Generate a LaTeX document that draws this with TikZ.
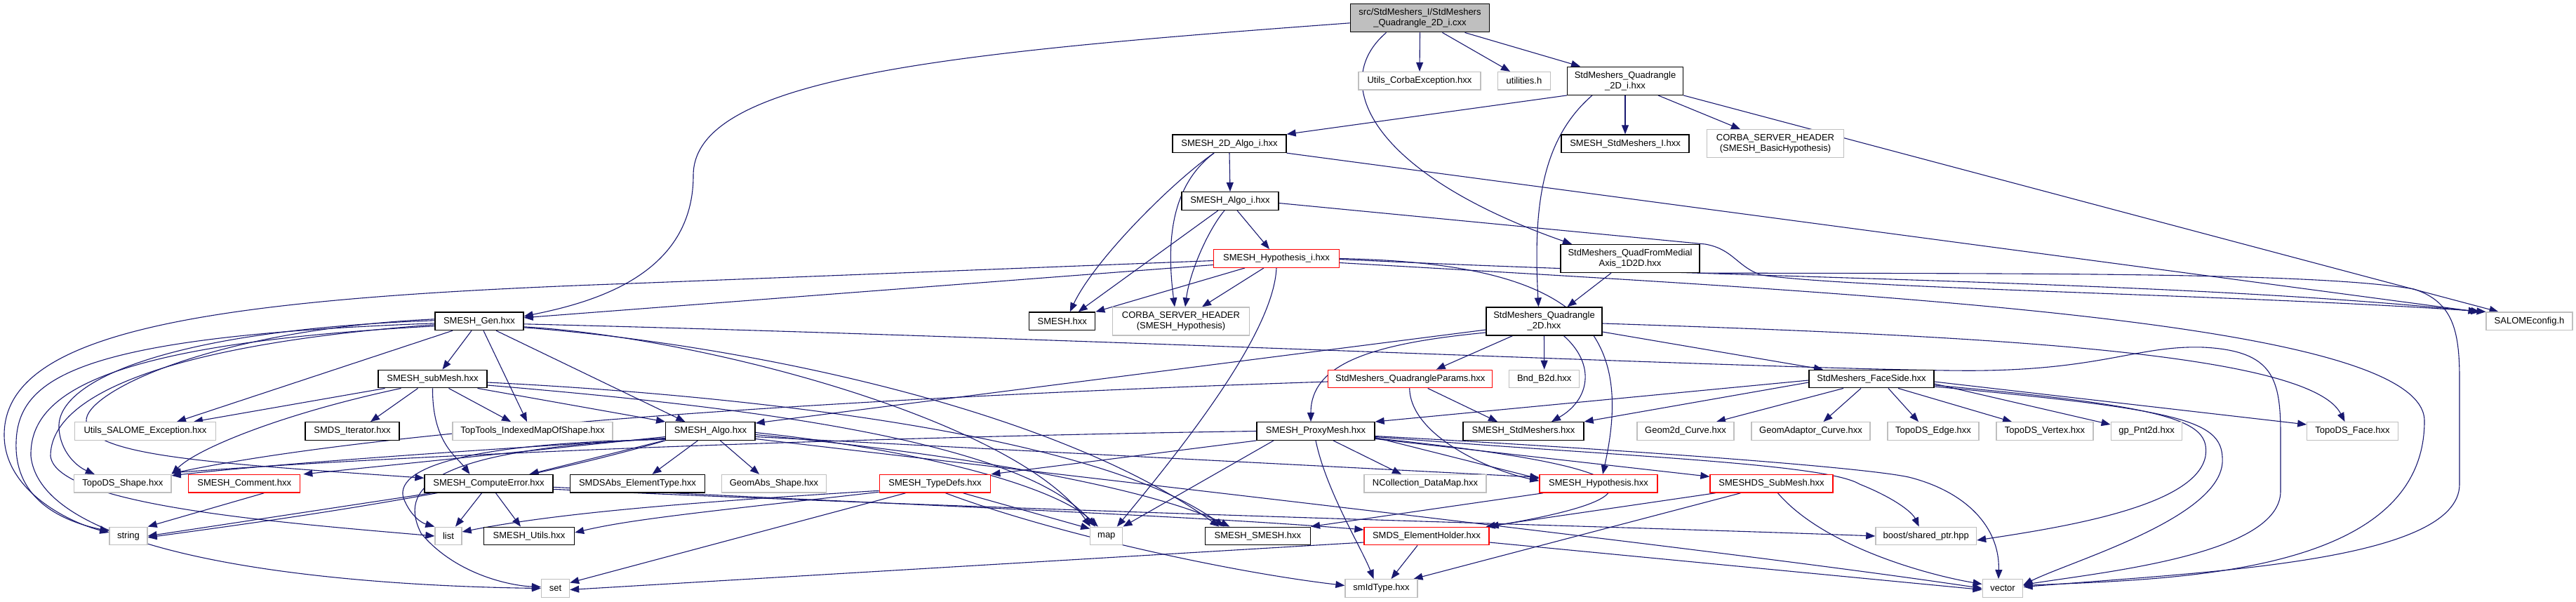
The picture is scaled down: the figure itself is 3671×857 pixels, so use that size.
\documentclass[tikz,border=0pt]{standalone}
\usepackage{fontspec}
\newfontfamily\dfont{Liberation Sans}
\usetikzlibrary{arrows.meta}
\definecolor{edgec}{HTML}{191970}
\definecolor{gry}{HTML}{BFBFBF}
\pgfdeclarelayer{bg}
\pgfsetlayers{bg,main}
\tikzset{
  box/.style={rectangle, draw=black, fill=white, line width=1.3pt, inner sep=0pt, minimum height=25.6pt, align=center, font=\dfont\fontsize{13}{15}\selectfont},
  gbox/.style={box, draw=gry},
  rbox/.style={box, draw=red},
  rootbox/.style={box, fill=gry},
  tall/.style={minimum height=40pt},
  e/.style={draw=edgec, line width=1.1pt, -{Triangle[length=13pt,width=10pt]}},
}
\begin{document}
\begin{tikzpicture}[x=1pt,y=-1pt]
\useasboundingbox (0,0) rectangle (3671,857);
% row 0
\node[rootbox, tall, minimum width=198] (R) at (2023.5,25.8) {src/StdMeshers\_I/StdMeshers\\\_Quadrangle\_2D\_i.cxx};
% row 1
\node[gbox, minimum width=174] (UCE) at (2023,115.3) {Utils\_CorbaException.hxx};
\node[gbox, minimum width=75] (UTL) at (2172,115.3) {utilities.h};
\node[box, tall, minimum width=165] (QI) at (2316,115.3) {StdMeshers\_Quadrangle\\\_2D\_i.hxx};
% row 2
\node[box, minimum width=162] (A2D) at (1752,204.7) {SMESH\_2D\_Algo\_i.hxx};
\node[box, minimum width=182] (SSI) at (2316,204.7) {SMESH\_StdMeshers\_I.hxx};
\node[gbox, tall, minimum width=195] (CBH) at (2530,204.7) {CORBA\_SERVER\_HEADER\\(SMESH\_BasicHypothesis)};
% row 3
\node[box, minimum width=138] (AI) at (1753,286.5) {SMESH\_Algo\_i.hxx};
% row 4
\node[rbox, minimum width=179] (HI) at (1819,368.5) {SMESH\_Hypothesis\_i.hxx};
\node[box, tall, minimum width=198] (QFM) at (2323,368.5) {StdMeshers\_QuadFromMedial\\Axis\_1D2D.hxx};
% row 5
\node[box, minimum width=126] (GEN) at (683,457.8) {SMESH\_Gen.hxx};
\node[box, minimum width=94] (SMH) at (1513.7,457.8) {SMESH.hxx};
\node[gbox, tall, minimum width=195] (CHY) at (1683,458) {CORBA\_SERVER\_HEADER\\(SMESH\_Hypothesis)};
\node[box, tall, minimum width=165] (Q2D) at (2200.5,458) {StdMeshers\_Quadrangle\\\_2D.hxx};
\node[gbox, minimum width=123] (SAL) at (3604.5,457.8) {SALOMEconfig.h};
% row 6
\node[box, minimum width=155] (SUB) at (616.5,540) {SMESH\_subMesh.hxx};
\node[rbox, minimum width=234] (QP) at (2009.7,540) {StdMeshers\_QuadrangleParams.hxx};
\node[gbox, minimum width=100] (BND) at (2200.7,540) {Bnd\_B2d.hxx};
\node[box, minimum width=178] (FS) at (2667,540) {StdMeshers\_FaceSide.hxx};
% row 7
\node[gbox, minimum width=200.6] (USE) at (207,614.5) {Utils\_SALOME\_Exception.hxx};
\node[box, minimum width=134] (SIT) at (502,614.5) {SMDS\_Iterator.hxx};
\node[gbox, minimum width=228] (TTI) at (759,614.5) {TopTools\_IndexedMapOfShape.hxx};
\node[box, minimum width=127.3] (ALG) at (1012.4,614.5) {SMESH\_Algo.hxx};
\node[box, minimum width=168] (PXM) at (1875,614.5) {SMESH\_ProxyMesh.hxx};
\node[box, minimum width=172] (SSM) at (2171,614.5) {SMESH\_StdMeshers.hxx};
\node[gbox, minimum width=138] (G2C) at (2402,614.5) {Geom2d\_Curve.hxx};
\node[gbox, minimum width=169] (GAC) at (2580.5,614.5) {GeomAdaptor\_Curve.hxx};
\node[gbox, minimum width=130] (TDE) at (2755,614.5) {TopoDS\_Edge.hxx};
\node[gbox, minimum width=138] (TDV) at (2914,614.5) {TopoDS\_Vertex.hxx};
\node[gbox, minimum width=101.6] (GP2) at (3059,614.5) {gp\_Pnt2d.hxx};
\node[gbox, minimum width=129.4] (TDF) at (3352.5,614.5) {TopoDS\_Face.hxx};
% row 8
\node[gbox, minimum width=138.5] (TDS) at (174.8,689.3) {TopoDS\_Shape.hxx};
\node[rbox, minimum width=159] (CMT) at (348.2,689.3) {SMESH\_Comment.hxx};
\node[box, minimum width=183] (CER) at (696.5,689.3) {SMESH\_ComputeError.hxx};
\node[box, minimum width=192] (ELT) at (908.5,689.3) {SMDSAbs\_ElementType.hxx};
\node[gbox, minimum width=149] (GAS) at (1103,689.3) {GeomAbs\_Shape.hxx};
\node[rbox, minimum width=158.5] (TYP) at (1332.5,689.3) {SMESH\_TypeDefs.hxx};
\node[gbox, minimum width=174] (NDM) at (2031,689.3) {NCollection\_DataMap.hxx};
\node[rbox, minimum width=168] (SHY) at (2278,689.3) {SMESH\_Hypothesis.hxx};
\node[rbox, minimum width=175] (SDS) at (2524.5,689.3) {SMESHDS\_SubMesh.hxx};
% row 9
\node[gbox, minimum width=54] (STR) at (183,764) {string};
\node[gbox, minimum width=38] (LST) at (639,764) {list};
\node[box, minimum width=129] (SUT) at (754,764) {SMESH\_Utils.hxx};
\node[gbox, minimum width=46] (MAP) at (1576.8,764) {map};
\node[box, minimum width=150] (SMS) at (1792.4,764) {SMESH\_SMESH.hxx};
\node[rbox, minimum width=178] (EHD) at (2033,764) {SMDS\_ElementHolder.hxx};
\node[gbox, minimum width=143.6] (BSP) at (2744.7,764) {boost/shared\_ptr.hpp};
% row 10
\node[gbox, minimum width=40] (SET) at (791.5,838.5) {set};
\node[gbox, minimum width=103] (SMI) at (1968.5,838.5) {smIdType.hxx};
\node[gbox, minimum width=57.6] (VEC) at (2854,838.5) {vector};

\begin{pgfonlayer}{bg}
% root
\draw[e] (R.south) -- (UCE.north);
\draw[e] ([xshift=32]R.south) -- ([xshift=-20]UTL.north);
\draw[e] ([xshift=64]R.south) -- ([xshift=-64]QI.north);
\draw[e] ([yshift=-7]R.west) .. controls (1350,75) and (988,110) .. (988,250) .. controls (988,390) and (850,430) .. ([yshift=7]GEN.east);
\draw[e] ([xshift=-48]R.south) .. controls (1890,120) and (1960,250) .. ([xshift=-83]QFM.north);
% QI
\draw[e] (QI.south west) -- (A2D.north east);
\draw[e] (QI.south) -- (SSI.north);
\draw[e] ([xshift=47]QI.south) -- ([xshift=-50]CBH.north);
\draw[e] ([xshift=-47]QI.south) .. controls (2195,200) and (2185,300) .. ([xshift=-8]Q2D.north);
\draw[e] (QI.south east) -- ([xshift=-44]SAL.north);
% A2D
\draw[e] (A2D.south) -- (AI.north);
\draw[e] ([xshift=-22]A2D.south) .. controls (1670,260) and (1560,370) .. ([xshift=11]SMH.north);
\draw[e] ([xshift=-22]A2D.south) .. controls (1675,260) and (1660,330) .. ([xshift=-9]CHY.north);
\draw[e] (A2D.south east) -- ([xshift=-74]SAL.north);
% AI
\draw[e] ([xshift=10]AI.south) -- ([xshift=-10]HI.north);
\draw[e] ([xshift=-17]AI.south) -- ([xshift=23]SMH.north);
\draw[e] ([xshift=-8]AI.south) .. controls (1720,330) and (1695,390) .. ([xshift=6]CHY.north);
\draw[e] ([yshift=-3]AI.east) -- (2430,348) .. controls (2470,355) and (2475,380) .. (2510,392) .. controls (2650,412) and (3200,420) .. ([xshift=-62]SAL.north);
% HI
\draw[e] ([yshift=-9]HI.west) -- ([yshift=5]GEN.east);
\draw[e] ([xshift=-45]HI.south) -- (SMH.north east);
\draw[e] ([xshift=-18]HI.south) -- ([xshift=30]CHY.north);
\draw[e] (HI.south) .. controls (1815,470) and (1700,620) .. ([xshift=15]MAP.north);
\draw[e] (HI.east) .. controls (2250,375) and (2330,470) .. ([xshift=6]SHY.north);
\draw[e] ([yshift=-3]HI.west) -- (900,404) .. controls (300,425) and (6,470) .. (6,620) .. controls (6,700) and (100,745) .. ([yshift=5]STR.west);
\draw[e] ([yshift=-1]HI.east) .. controls (2500,398) and (3100,400) .. ([xshift=-70]SAL.north);
\draw[e] ([yshift=-6]HI.east) .. controls (2700,420) and (3455,460) .. (3455,600) .. controls (3455,820) and (3100,825) .. ([yshift=4]VEC.east);
% QFM
\draw[e] ([xshift=-27]QFM.south) -- ([xshift=33]Q2D.north);
\draw[e] (QFM.south east) .. controls (2900,390) and (3300,388) .. (3440,412) .. controls (3495,430) and (3505,470) .. (3505,540) -- (3505,690) .. controls (3505,800) and (3150,815) .. ([yshift=2]VEC.east);
% Q2D
\draw[e] ([yshift=-12]Q2D.west) -- ([yshift=-2]ALG.north east);
\draw[e] ([yshift=-16]Q2D.west) .. controls (1950,490) and (1868,520) .. ([xshift=-7]PXM.north);
\draw[e] ([xshift=28]Q2D.south) .. controls (2275,520) and (2265,570) .. ([xshift=40]SSM.north);
\draw[e] ([xshift=-45]Q2D.south) -- ([xshift=37]QP.north);
\draw[e] (Q2D.south) -- (BND.north);
\draw[e] ([yshift=-15]Q2D.east) -- ([xshift=-69]FS.north);
\draw[e] ([yshift=-3]Q2D.east) .. controls (2800,478) and (3290,500) .. ([xshift=-11]TDF.north);
% GEN
\draw[e] ([yshift=-4]GEN.east) .. controls (1500,480) and (2650,532) .. (2830,528) .. controls (3000,525) and (3050,492) .. (3140,495) .. controls (3240,500) and (3250,540) .. (3250,620) -- (3250,700) .. controls (3250,790) and (3000,815) .. ([yshift=5]VEC.east);
\draw[e] ([xshift=-11]GEN.south) -- ([xshift=14]SUB.north);
\draw[e] ([xshift=-38]GEN.south) -- ([xshift=45]USE.north);
\draw[e] ([xshift=6]GEN.south) -- ([xshift=-8]TTI.north);
\draw[e] ([xshift=24]GEN.south) -- ([xshift=-36]ALG.north);
\draw[e] ([yshift=-8]GEN.east) .. controls (1000,480) and (1450,600) .. ([xshift=-23]MAP.north);
\draw[e] ([yshift=-9]GEN.east) .. controls (1050,490) and (1500,580) .. ([xshift=-55]SMS.north);
\draw[e] ([yshift=3]GEN.west) .. controls (300,470) and (120,560) .. (123,600) .. controls (126,650) and (300,660) .. ([yshift=8]CER.west);
\draw[e] ([yshift=1]GEN.west) .. controls (250,470) and (80,540) .. (84,610) .. controls (86,645) and (110,665) .. ([xshift=-40]TDS.north);
\draw[e] ([yshift=-3]GEN.west) .. controls (100,480) and (20,540) .. (23,640) .. controls (26,720) and (100,745) .. ([yshift=7]STR.west);
\draw[e] ([yshift=-5]GEN.west) .. controls (250,490) and (72,560) .. (72,650) .. controls (80,720) and (400,745) .. (LST.west);
\draw[e] ([yshift=-7]GEN.west) .. controls (150,490) and (42,560) .. (44,650) .. controls (60,800) and (500,835) .. (SET.west);
% SUB
\draw[e] ([xshift=-68]SUB.south) -- ([xshift=69]USE.north);
\draw[e] ([xshift=-45]SUB.south) .. controls (400,590) and (280,640) .. (TDS.north east);
\draw[e] ([xshift=-21]SUB.south) -- ([xshift=26]SIT.north);
\draw[e] (SUB.south) .. controls (616,630) and (650,650) .. ([xshift=-27]CER.north);
\draw[e] ([xshift=23]SUB.south) -- ([xshift=-31]TTI.north);
\draw[e] ([xshift=64]SUB.south) -- (ALG.north west);
\draw[e] ([yshift=-5]SUB.east) .. controls (1000,560) and (1550,610) .. ([xshift=-48]SMS.north);
\draw[e] ([yshift=-9]SUB.east) .. controls (1000,575) and (1450,620) .. ([xshift=-16]MAP.north);
% ALG
\draw[e] ([yshift=-8]ALG.west) -- ([xshift=4]CMT.north east);
\draw[e] ([yshift=-10]ALG.west) .. controls (700,640) and (400,660) .. ([yshift=-2]TDS.north east);
\draw[e] ([xshift=-2]ALG.south west) -- ([xshift=58]CER.north);
\draw[e] ([xshift=-18]ALG.south) -- ([xshift=21]ELT.north);
\draw[e] ([xshift=14]ALG.south) -- ([xshift=-21]GAS.north);
\draw[e] ([yshift=-12]ALG.west) .. controls (700,630) and (560,660) .. (575,710) .. controls (585,735) and (600,745) .. (LST.north west);
\draw[e] (ALG.south west) .. controls (700,700) and (400,740) .. ([yshift=-2]STR.east);
\draw[e] ([yshift=-11]ALG.west) .. controls (600,640) and (570,700) .. (600,760) .. controls (650,820) and (730,835) .. ([yshift=2]SET.west);
\draw[e] ([yshift=-2]ALG.east) .. controls (1300,640) and (1500,690) .. ([xshift=-12]MAP.north);
\draw[e] ([yshift=-5]ALG.east) .. controls (1400,650) and (1650,700) .. ([xshift=-40]SMS.north);
\draw[e] ([yshift=-8]ALG.east) -- ([yshift=9]SHY.west);
\draw[e] ([yshift=-11]ALG.east) .. controls (1800,710) and (2500,790) .. (VEC.west);
% CER, CMT
\draw[e] ([xshift=-82]CER.south) -- (STR.east);
\draw[e] ([xshift=-10]CER.south) -- ([xshift=10]LST.north);
\draw[e] ([xshift=10]CER.south) -- ([xshift=-12]SUT.north);
\draw[e] ([yshift=-5]CER.east) .. controls (1300,720) and (1700,735) .. ([yshift=9]EHD.west);
\draw[e] ([yshift=-8]CER.east) .. controls (1500,730) and (2300,750) .. (BSP.west);
\draw[e] ([xshift=28]CMT.south) -- (STR.north east);
% TYP
\draw[e] ([xshift=40]TYP.south) -- ([yshift=-3]MAP.north west);
\draw[e] ([xshift=-42]TYP.south) -- ([yshift=8]SET.east);
\draw[e] ([xshift=15]TYP.south) .. controls (1500,760) and (1750,815) .. ([yshift=4]SMI.west);
\draw[e] ([yshift=-10]TYP.west) .. controls (1000,715) and (800,730) .. ([yshift=6]LST.east);
\draw[e] ([yshift=-12]TYP.west) .. controls (1000,730) and (900,740) .. ([yshift=5]SUT.east);
% PXM
\draw[e] (PXM.south west) -- (TYP.north east);
\draw[e] (PXM.west) .. controls (1400,620) and (700,640) .. ([yshift=2]TDS.north east);
\draw[e] ([xshift=-60]PXM.south) -- (MAP.north east);
\draw[e] (PXM.south) .. controls (1890,700) and (1940,780) .. ([xshift=-11]SMI.north);
\draw[e] ([xshift=25]PXM.south) -- ([xshift=-34]NDM.north);
\draw[e] ([yshift=-9]PXM.east) -- ([yshift=7]SHY.west);
\draw[e] ([yshift=-11]PXM.east) -- ([yshift=10]SDS.west);
\draw[e] ([yshift=-10]PXM.east) .. controls (2300,660) and (2420,700) .. (EHD.north east);
\draw[e] ([yshift=-7]PXM.east) .. controls (2300,640) and (2650,665) .. (2720,680) .. controls (2800,700) and (2850,750) .. ([xshift=-6]VEC.north);
\draw[e] ([yshift=-8]PXM.east) .. controls (2300,650) and (2600,660) .. (2650,690) .. controls (2700,710) and (2725,730) .. ([xshift=-10]BSP.north);
% SHY, SDS, EHD
\draw[e] ([xshift=-79]SHY.south) -- (SMS.north east);
\draw[e] ([xshift=-80]SDS.south) -- ([xshift=-5]EHD.north east);
\draw[e] ([xshift=-44]SDS.south) -- ([xshift=46]SMI.north);
\draw[e] ([xshift=9]SDS.south) .. controls (2600,780) and (2750,820) .. ([yshift=6]VEC.west);
\draw[e] ([xshift=-13]EHD.south) -- ([xshift=14]SMI.north);
\draw[e] ([yshift=-9]EHD.east) -- ([yshift=-2]VEC.west);
\draw[e] ([yshift=-9]EHD.west) -- ([yshift=-2]SET.east);
% FS
\draw[e] ([yshift=-5]FS.west) -- (SSM.north east);
\draw[e] ([yshift=-2]FS.west) -- (PXM.north east);
\draw[e] ([xshift=-40]FS.south) -- ([xshift=44]G2C.north);
\draw[e] ([xshift=-15]FS.south) -- ([xshift=18]GAC.north);
\draw[e] ([xshift=24]FS.south) -- ([xshift=-21]TDE.north);
\draw[e] ([xshift=38]FS.south) -- ([xshift=-47]TDV.north);
\draw[e] ([yshift=-7]FS.east) -- ([yshift=-4]GP2.north west);
\draw[e] ([yshift=-4]FS.east) -- ([yshift=-4]TDF.north west);
\draw[e] ([yshift=-9]FS.east) .. controls (3100,580) and (3150,600) .. (3143,650) .. controls (3130,720) and (2950,750) .. ([yshift=-6]BSP.east);
\draw[e] ([yshift=-11]FS.east) .. controls (3120,585) and (3170,600) .. (3167,660) .. controls (3160,740) and (2950,800) .. ([yshift=5]VEC.east);
% QP
\draw[e] ([xshift=25]QP.south) -- ([xshift=-37]SSM.north);
\draw[e] ([yshift=-4]QP.west) .. controls (1400,560) and (600,600) .. ([yshift=1]TDS.north east);
\draw[e] ([xshift=-1]QP.south) .. controls (2010,620) and (2120,670) .. ([yshift=4]SHY.west);
\end{pgfonlayer}
\end{tikzpicture}
\end{document}
